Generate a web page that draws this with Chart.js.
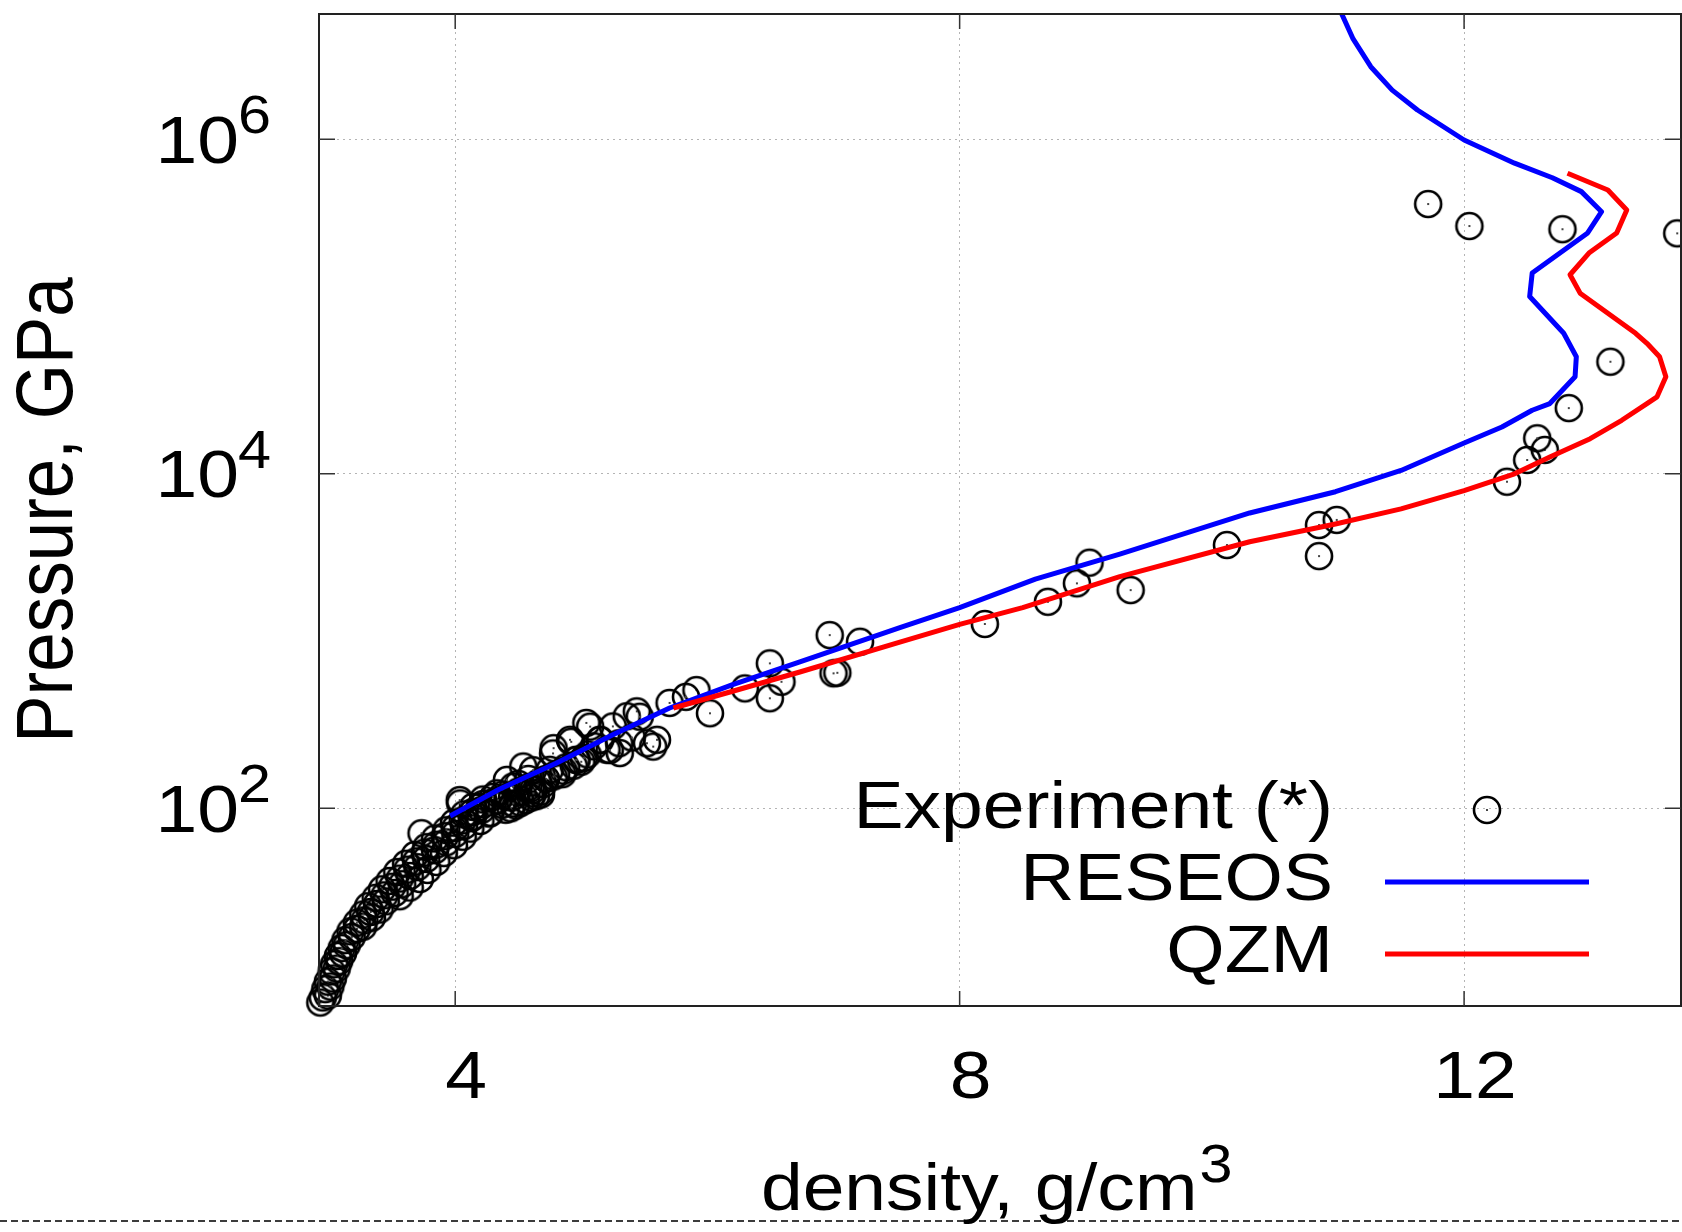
<!DOCTYPE html>
<html>
<head>
<meta charset="utf-8">
<script src="https://cdn.jsdelivr.net/npm/chart.js@4.4.0/dist/chart.umd.min.js"></script>
<style>
html,body{margin:0;padding:0;background:#fff;overflow:hidden;}
#wrap{position:relative;width:1682px;height:1232px;}
</style>
</head>
<body>
<div id="wrap"><canvas id="c"></canvas></div>
<script>
// ---------- data ----------
const xTickValues = [4, 8, 12];
const yTickValues = [1e2, 1e4, 1e6];
const xRange = [2.92, 13.72];
const yRange = [6.58, 5.61e6];
const xTitle = 'density, g/cm';
const xTitleSup = '3';
const yTitle = 'Pressure, GPa';
const seriesLabels = ['Experiment (*)', 'RESEOS', 'QZM'];

const expDensity = [
  2.93,2.95,2.99,2.97,3.01,2.99,3.03,3.02,3.06,3.04,3.08,3.07,3.11,3.10,3.14,3.13,3.18,
  3.17,3.22,3.27,3.22,3.28,3.34,3.27,3.33,3.40,3.31,3.38,3.45,3.37,3.44,3.52,3.56,
  3.42,3.50,3.58,3.64,3.48,3.56,3.64,3.72,3.54,3.62,3.70,3.78,3.61,3.69,3.77,3.85,
  3.68,3.76,3.84,3.91,3.77,3.85,3.93,3.99,3.84,3.92,4.00,4.06,3.93,4.00,4.07,4.12,
  3.99,4.06,4.13,4.20,4.07,4.14,4.21,4.28,4.14,4.22,4.30,4.37,4.22,4.30,4.38,4.45,
  3.733,4.036,
  4.40,4.48,4.56,4.64,4.52,4.60,4.70,4.68,4.85,4.88,5.00,5.05,5.10,5.30,5.40,4.75,4.58,4.50,
  4.34,4.42,4.50,4.58,4.66,4.72,4.80,4.86,4.94,5.02,4.44,4.52,4.60,4.68,
  4.04,5.04,5.44,5.70,5.52,5.57,5.305,4.96,4.78,4.91,4.62,4.78,4.46,4.54,4.41,4.33,5.15,5.25,5.36,5.20,4.195,4.27,4.14,5.60,
  6.495,6.587,6.495,6.297,5.913,6.02,5.83,5.463,5.07,4.92,4.776,4.617,4.962,5.147,5.226,4.459,4.617,
  6.97,7.21,7.00,7.03,8.20,8.70,8.93,9.03,9.356,10.12,10.85,10.99,10.85,
  12.34,12.50,12.64,12.58,12.83,13.16,11.715,12.042,12.78,13.69
];
const expPressure = [
  6.9,7.4,7.6,8.3,8.6,9.2,9.6,10.6,11.0,11.7,12.2,13.1,13.6,14.6,15.2,16.3,17.0,
  18.4,19.0,19.6,20.7,21.4,22.2,23.2,24.0,24.8,26.0,26.8,27.8,29.2,30.2,31.2,29.8,
  32.8,34.0,35.2,33.6,36.8,38.0,39.4,37.8,41.6,43.0,44.5,42.8,46.6,48.2,49.8,47.8,
  52.6,54.4,56.2,54.0,58.6,60.6,62.6,60.2,66.0,68.2,70.4,67.6,74.0,76.4,78.6,75.6,
  82.0,84.8,87.4,84.0,92.0,95.0,98.0,94.0,102,106,109,105,113,117,121,116,
  71,112,
  98,104,112,118,125,132,140,126,160,176,190,210,235,245,265,170,150,140,
  112,118,126,134,142,150,160,168,180,200,100,108,116,121,
  107,324,380,427,245,234,214,195,229,257,123,155,107,178,148,123,257,309,355,224,102,93,89,257,
  736,571,455,521,509,370,464,353,308,250,213,169,195,256,223,135,129,
  1086,991,641,646,1265,1718,2213,2944,2018,3750,4940,5300,3220,
  8970,12100,13900,16300,24700,46800,410000,303000,290000,274000
];

const reseosDensity = [
  3.96,4.35,4.80,5.25,5.70,6.20,6.733,7.526,8.0,8.6,9.27,10.30,10.98,11.5,12.0,12.3,12.54,
  12.68,12.88,12.89,12.79,12.52,12.54,12.98,13.09,12.93,12.70,12.40,12.0,11.63,11.43,11.26,11.12,11.03
];
const reseosPressure = [
  89.9,130,186,275,398,549,750,1202,1585,2344,3311,5834,7816,10470,15280,19050,23990,
  26300,38020,50120,69180,114800,158500,275400,369000,486400,588800,719500,990000,1496000,1968000,2716000,3981000,5610000
];

const qzmDensity = [
  5.73,6.20,6.733,7.526,8.0,8.5,9.27,10.30,10.98,11.5,12.0,12.4,12.68,13.0,13.25,13.45,13.53,
  13.60,13.55,13.45,13.36,12.92,12.84,12.99,13.21,13.29,13.14,12.82
];
const qzmPressure = [
  398,501,653,986,1259,1585,2427,3926,5012,6166,7943,10000,12590,16220,20890,26300,28840,
  38020,50120,60260,69180,120200,154900,208900,275400,377600,497700,626600
];

// ---------- styling ----------
const FONT = "'Liberation Sans', Arial, Helvetica, sans-serif";
const STRETCH = 1.12;   // the reference lettering is horizontally widened

const canvas = document.getElementById('c');
const ctx2d = canvas.getContext('2d');
(function(ctx){
  const orig = ctx.fillText;
  ctx.fillText = function(text, x, y, maxWidth) {
    const m = this.getTransform();
    const rotated = Math.abs(m.b) > 1e-6;
    this.save();
    this.translate(x, y);
    if (rotated) this.scale(1, STRETCH); else this.scale(STRETCH, 1);
    if (maxWidth === undefined) orig.call(this, text, 0, 0);
    else orig.call(this, text, 0, 0, rotated ? maxWidth : maxWidth / STRETCH);
    this.restore();
  };
})(ctx2d);

const pointImg = document.createElement('canvas');
pointImg.width = 32; pointImg.height = 32;
(function(){
  const p = pointImg.getContext('2d');
  p.strokeStyle = '#000'; p.lineWidth = 2.6;
  p.beginPath(); p.arc(16, 16, 13, 0, Math.PI * 2); p.stroke();
  p.fillStyle = '#444'; p.fillRect(15, 15, 2, 2);
})();

const toXY = (xs, ys) => xs.map((x, i) => ({x: x, y: ys[i]}));
const noPad = s => { s.paddingTop = 0; s.paddingBottom = 0; s.paddingLeft = 0; s.paddingRight = 0; };

const TICK_SIZE = 67, SUP_SIZE = 53;

const decor = {
  id: 'decor',
  beforeDraw(chart) {
    const ctx = chart.ctx;
    ctx.save();
    ctx.fillStyle = '#fff';
    ctx.fillRect(0, 0, chart.width, chart.height);
    ctx.strokeStyle = '#3c3c3c';
    ctx.lineWidth = 2;
    ctx.setLineDash([7, 4]);
    ctx.beginPath();
    ctx.moveTo(0, chart.height - 11);
    ctx.lineTo(chart.width, chart.height - 11);
    ctx.stroke();
    ctx.restore();
  },
  afterDraw(chart) {
    const ctx = chart.ctx;
    const ca = chart.chartArea;
    const xs = chart.scales.x, ys = chart.scales.y;
    ctx.save();
    // frame
    ctx.strokeStyle = '#222';
    ctx.lineWidth = 2;
    ctx.setLineDash([]);
    ctx.strokeRect(ca.left, ca.top, ca.right - ca.left, ca.bottom - ca.top);
    // inward ticks
    ctx.lineWidth = 1.5;
    ctx.strokeStyle = '#333';
    ctx.beginPath();
    xs.ticks.forEach(t => {
      const px = xs.getPixelForValue(t.value);
      ctx.moveTo(px, ca.bottom); ctx.lineTo(px, ca.bottom - 15);
      ctx.moveTo(px, ca.top); ctx.lineTo(px, ca.top + 15);
    });
    ys.ticks.forEach(t => {
      const py = ys.getPixelForValue(t.value);
      ctx.moveTo(ca.left, py); ctx.lineTo(ca.left + 16, py);
      ctx.moveTo(ca.right, py); ctx.lineTo(ca.right - 16, py);
    });
    ctx.stroke();
    // y tick exponents
    ctx.fillStyle = '#000';
    ctx.font = SUP_SIZE + 'px ' + FONT;
    ctx.textAlign = 'left';
    ctx.textBaseline = 'alphabetic';
    ys.ticks.forEach(t => {
      const py = ys.getPixelForValue(t.value);
      ctx.fillText(String(Math.round(Math.log10(t.value))), ys.right - ys.options.ticks.padding - 1, py - 6);
    });
    // x title superscript
    ctx.font = TICK_SIZE + 'px ' + FONT;
    const W = ctx.measureText(xs.options.title.text).width * STRETCH;
    const w = ctx.measureText(xTitle).width * STRETCH;
    const cx = (xs.left + xs.right) / 2;
    const midY = xs.bottom - 7 - TICK_SIZE / 2;
    ctx.font = SUP_SIZE + 'px ' + FONT;
    ctx.fillText(xTitleSup, cx - W / 2 + w + 2, midY - 10);
    // legend
    const textRight = ca.right - 348, s0 = ca.right - 296, s1 = ca.right - 92;
    const rows = [ca.bottom - 196, ca.bottom - 124, ca.bottom - 52];
    chart.data.datasets.forEach((ds, i) => {
      ctx.font = TICK_SIZE + 'px ' + FONT;
      ctx.fillStyle = '#000';
      ctx.textAlign = 'right';
      ctx.textBaseline = 'middle';
      ctx.fillText(ds.label, textRight, rows[i]);
      if (ds.showLine) {
        ctx.strokeStyle = ds.borderColor;
        ctx.lineWidth = ds.borderWidth;
        ctx.beginPath();
        ctx.moveTo(s0, rows[i]); ctx.lineTo(s1, rows[i]);
        ctx.stroke();
      } else {
        ctx.drawImage(pointImg, (s0 + s1) / 2 - 16, rows[i] - 16);
      }
    });
    ctx.restore();
  }
};

const gridOpts = {color: '#b4b4b4', lineWidth: 1, drawTicks: false};

new Chart(ctx2d, {
  type: 'scatter',
  data: {
    datasets: [
      {
        label: seriesLabels[0],
        data: toXY(expDensity, expPressure),
        showLine: false,
        pointStyle: pointImg,
        pointRadius: 13,
        borderColor: '#000',
        backgroundColor: 'rgba(0,0,0,0)',
        order: 2,
        clip: 16
      },
      {
        label: seriesLabels[1],
        data: toXY(reseosDensity, reseosPressure),
        showLine: true,
        borderColor: '#0000ff',
        backgroundColor: '#0000ff',
        borderWidth: 5,
        pointRadius: 0,
        tension: 0,
        borderJoinStyle: 'round',
        order: 1,
        clip: 0
      },
      {
        label: seriesLabels[2],
        data: toXY(qzmDensity, qzmPressure),
        showLine: true,
        borderColor: '#ff0000',
        backgroundColor: '#ff0000',
        borderWidth: 5,
        pointRadius: 0,
        tension: 0,
        borderJoinStyle: 'round',
        order: 0,
        clip: 0
      }
    ]
  },
  options: {
    responsive: true,
    maintainAspectRatio: false,
    animation: false,
    devicePixelRatio: 1,
    layout: {autoPadding: false, padding: {top: 14, right: 1, left: 0, bottom: 0}},
    plugins: {legend: {display: false}, tooltip: {enabled: false}},
    scales: {
      x: {
        type: 'linear',
        min: xRange[0], max: xRange[1],
        bounds: 'data',
        afterBuildTicks: s => { s.ticks = xTickValues.map(v => ({value: v})); },
        afterFit: s => { s.height = 226; noPad(s); },
        grid: gridOpts,
        border: {display: false, dash: [2, 4]},
        ticks: {
          font: {family: FONT, size: TICK_SIZE, lineHeight: 1},
          color: '#000', padding: 40, labelOffset: 11,
          maxRotation: 0, autoSkip: false,
          callback: v => String(v)
        },
        title: {
          display: true, text: xTitle + '  ',
          font: {family: FONT, size: TICK_SIZE, lineHeight: 1},
          color: '#000', padding: {top: 0, bottom: 7}
        }
      },
      y: {
        type: 'logarithmic',
        min: yRange[0], max: yRange[1],
        bounds: 'data',
        afterBuildTicks: s => { s.ticks = yTickValues.map(v => ({value: v})); },
        afterFit: s => { s.width = 319; noPad(s); },
        grid: gridOpts,
        border: {display: false, dash: [2, 4]},
        ticks: {
          font: {family: FONT, size: TICK_SIZE, lineHeight: 1},
          color: '#000', padding: 80, labelOffset: 5, autoSkip: false,
          callback: () => '10'
        },
        title: {
          display: true, text: yTitle,
          font: {family: FONT, size: 71, lineHeight: 1},
          color: '#000', padding: {top: 15, bottom: 0}
        }
      }
    }
  },
  plugins: [decor]
});
</script>
</body>
</html>
